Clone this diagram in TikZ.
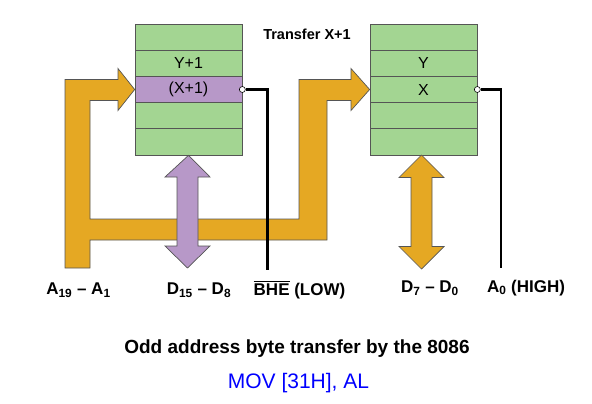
\documentclass[tikz,border=0pt]{standalone}
\usepackage{fontspec}
\setmainfont{Liberation Sans}
\usetikzlibrary{positioning}
\definecolor{busorange}{HTML}{E5A823}
\definecolor{memgreen}{HTML}{A3D592}
\definecolor{buspurple}{HTML}{B798C8}
\definecolor{edgegray}{HTML}{555555}
\newcommand{\activelow}[1]{\setbox0\hbox{#1}\rlap{\rule[\dimexpr\ht0+1.6pt\relax]{\wd0}{1.8pt}}\box0\relax}
\tikzset{
	memrow/.style={draw=edgegray, line width=0.7pt, minimum width=107pt, minimum height=26.2pt, inner sep=0pt, font=\fontsize{16}{18}\selectfont},
	busshape/.style={draw=edgegray, line width=0.7pt, line join=miter},
	sigline/.style={line width=2.4pt},
	pinhole/.style={circle, draw, fill=white, line width=0.6pt, minimum size=6pt, inner sep=0pt},
	siglabel/.style={font=\fontsize{17}{20}\selectfont\bfseries},
}
\begin{document}
\begin{tikzpicture}[x=1pt, y=-1pt]
				\useasboundingbox (0,0) rectangle (592,404);
				
				% odd bank
				\foreach \i/\txt/\col in {1//memgreen, 2/Y+1/memgreen, 3/(X+1)/buspurple, 4//memgreen, 5//memgreen}
				\node[memrow, fill=\col] (odd\i) at (188.5, 10.9+26.2*\i) {\txt};
				
				% even bank
				\foreach \i/\txt in {1/, 2/Y, 3/X, 4/, 5/}
				\node[memrow, fill=memgreen] (even\i) at (423.5, 10.9+26.2*\i) {\txt};
				
				\node[font=\fontsize{14.5}{17}\selectfont\bfseries] at (307,34) (xfer){Transfer X+1};
				
				% address bus A19 - A1
				\draw[busshape, fill=busorange] (65,268) -- (65,79.5) -- (118,79.5) -- (118,68.5) -- (odd3.west) -- (118,110.5) -- (118,100.5) -- (90,100.5) -- (90,219) -- (299,219) -- (299,79.5) -- (351,79.5) -- (351,68.5) -- (even3.west) -- (351,110.5) -- (351,100.5) -- (327,100.5) -- (327,240) -- (90,240) -- (90,268) -- cycle;
				
				% data bus D15 - D8
				\draw[busshape, fill=buspurple] (odd5.south) -- (210,177) -- (198,177) -- (198,246) -- (210,246) -- (187.5,268) -- (165,246) -- (177,246) -- (177,177) -- (165,177) -- cycle;
				
				% data bus D7 - D0
				\draw[busshape, fill=busorange] (421.5,155) -- (444,177.5) -- (432,177.5) -- (432,246.5) -- (444,246.5) -- (421.5,269) -- (399,246.5) -- (411,246.5) -- (411,177.5) -- (399,177.5) -- cycle;
				
				% BHE
				\node[pinhole] at (odd3.east) (bhe_pin){};
				\coordinate (bhe_end) at (267.5,270);
				\draw[sigline] (bhe_pin) -| (bhe_end);
				
				% A0
				\node[pinhole] at (even3.east) (a0_pin){};
				\coordinate (a0_end) at (501,268);
				\draw[sigline] (a0_pin) -| (a0_end);
				
				% labels
				\node[siglabel] at (78.5,290) (addr_lbl){A\textsubscript{19} – A\textsubscript{1}};
				\node[siglabel] at (199,290) (dhi_lbl){D\textsubscript{15} – D\textsubscript{8}};
				\node[siglabel] at (299.5,290) (bhe_lbl){\activelow{BHE} (LOW)};
				\node[siglabel] at (430,288) (dlo_lbl){D\textsubscript{7} – D\textsubscript{0}};
				\node[siglabel] at (526,288) (a0_lbl){A\textsubscript{0} (HIGH)};
				
				\node[font=\fontsize{19}{22}\selectfont\bfseries] at (297,349) (caption){Odd address byte transfer by the 8086};
				\node[font=\fontsize{21}{24}\selectfont, text=blue] at (298.5,383) (instr){MOV [31H], AL};
\end{tikzpicture}
\end{document}
